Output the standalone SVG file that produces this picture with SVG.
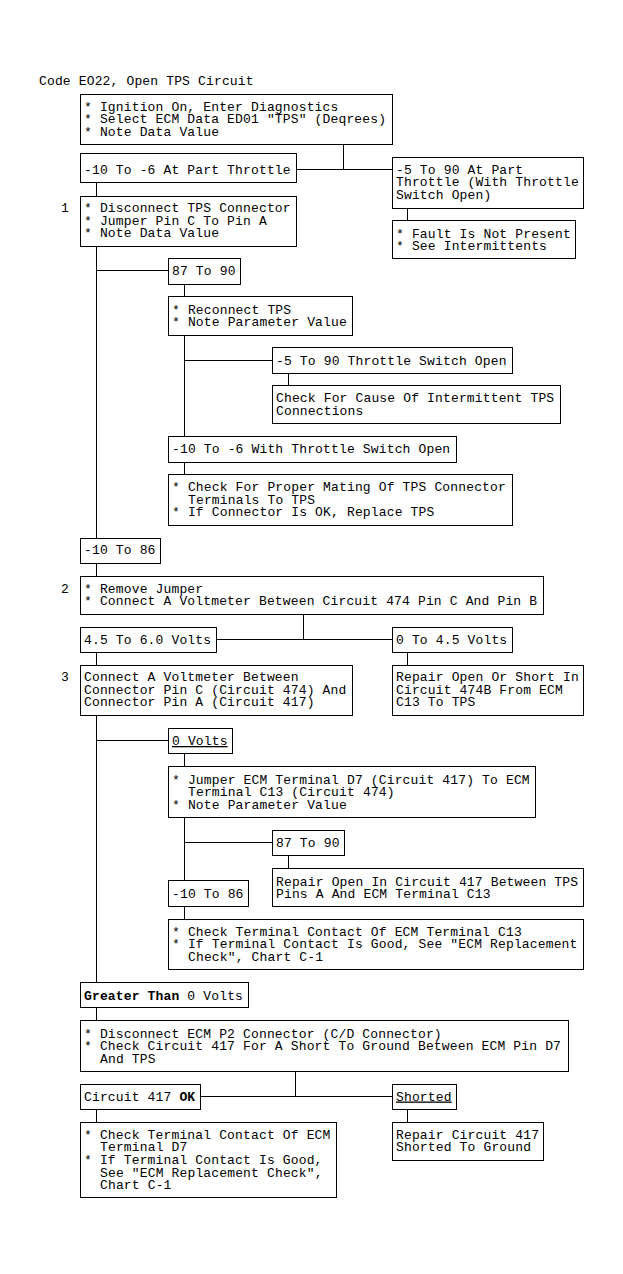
<svg xmlns="http://www.w3.org/2000/svg" width="623" height="1274" viewBox="0 0 623 1274">
<style>
rect.b{fill:#fff;stroke:#000;stroke-width:1}
text{font-family:"Liberation Mono","DejaVu Sans Mono",monospace;font-size:13px;letter-spacing:0.15px;fill:#000}
.u{text-decoration:underline}
.bd{font-weight:bold}
#connectors line{stroke:#000;stroke-width:1}
</style>
<rect x="0" y="0" width="623" height="1274" fill="#fff"/>
<g id="connectors">
<line x1="343.5" y1="144.5" x2="343.5" y2="169.5"/>
<line x1="296.5" y1="169.5" x2="392.5" y2="169.5"/>
<line x1="96.5" y1="182.5" x2="96.5" y2="196.5"/>
<line x1="407.5" y1="208.5" x2="407.5" y2="220.5"/>
<line x1="96.5" y1="246.5" x2="96.5" y2="538.5"/>
<line x1="96.5" y1="270.5" x2="168.5" y2="270.5"/>
<line x1="184.5" y1="284.5" x2="184.5" y2="296.5"/>
<line x1="184.5" y1="335.5" x2="184.5" y2="436.5"/>
<line x1="184.5" y1="360.5" x2="272.5" y2="360.5"/>
<line x1="288.5" y1="373.5" x2="288.5" y2="385.5"/>
<line x1="184.5" y1="462.5" x2="184.5" y2="474.5"/>
<line x1="96.5" y1="563.5" x2="96.5" y2="576.5"/>
<line x1="303.5" y1="614.5" x2="303.5" y2="639.5"/>
<line x1="216.5" y1="639.5" x2="392.5" y2="639.5"/>
<line x1="96.5" y1="652.5" x2="96.5" y2="665.5"/>
<line x1="407.5" y1="652.5" x2="407.5" y2="665.5"/>
<line x1="96.5" y1="715.5" x2="96.5" y2="982.5"/>
<line x1="96.5" y1="740.5" x2="168.5" y2="740.5"/>
<line x1="184.5" y1="753.5" x2="184.5" y2="766.5"/>
<line x1="184.5" y1="817.5" x2="184.5" y2="880.5"/>
<line x1="184.5" y1="842.5" x2="272.5" y2="842.5"/>
<line x1="288.5" y1="855.5" x2="288.5" y2="868.5"/>
<line x1="184.5" y1="906.5" x2="184.5" y2="919.5"/>
<line x1="96.5" y1="1007.5" x2="96.5" y2="1020.5"/>
<line x1="295.5" y1="1071.5" x2="295.5" y2="1096.5"/>
<line x1="200.5" y1="1096.5" x2="392.5" y2="1096.5"/>
<line x1="96.5" y1="1109.5" x2="96.5" y2="1122.5"/>
<line x1="407.5" y1="1109.5" x2="407.5" y2="1122.5"/>
</g>
<g id="title"><text x="39" y="84.5">Code EO22, Open TPS Circuit</text></g>
<g id="step1"><text x="61" y="212">1</text></g>
<g id="step2"><text x="61" y="592.5">2</text></g>
<g id="step3"><text x="61" y="681">3</text></g>
<g id="nA"><rect class="b" x="80.5" y="94.5" width="312" height="50"/>
<text><tspan x="84" y="110.5">* Ignition On, Enter Diagnostics</tspan><tspan x="84" y="123.2">* Select ECM Data ED01 "TPS" (Deqrees)</tspan><tspan x="84" y="135.9">* Note Data Value</tspan></text></g>
<g id="nB"><rect class="b" x="80.5" y="153.5" width="216" height="29"/>
<text x="84" y="173.5">-10 To -6 At Part Throttle</text></g>
<g id="nC"><rect class="b" x="392.5" y="157.5" width="191" height="51"/>
<text><tspan x="396" y="173.5">-5 To 90 At Part</tspan><tspan x="396" y="186.2">Throttle (With Throttle</tspan><tspan x="396" y="198.9">Switch Open)</tspan></text></g>
<g id="nD"><rect class="b" x="392.5" y="220.5" width="183" height="38"/>
<text><tspan x="396" y="237.5">* Fault Is Not Present</tspan><tspan x="396" y="250.2">* See Intermittents</tspan></text></g>
<g id="nE"><rect class="b" x="80.5" y="196.5" width="216" height="50"/>
<text><tspan x="84" y="212">* Disconnect TPS Connector</tspan><tspan x="84" y="224.7">* Jumper Pin C To Pin A</tspan><tspan x="84" y="237.4">* Note Data Value</tspan></text></g>
<g id="nF"><rect class="b" x="168.5" y="258.5" width="72" height="26"/>
<text x="172" y="275">87 To 90</text></g>
<g id="nG"><rect class="b" x="168.5" y="296.5" width="184" height="39"/>
<text><tspan x="172" y="313.5">* Reconnect TPS</tspan><tspan x="172" y="326.2">* Note Parameter Value</tspan></text></g>
<g id="nH"><rect class="b" x="272.5" y="347.5" width="240" height="26"/>
<text x="276" y="364.5">-5 To 90 Throttle Switch Open</text></g>
<g id="nI"><rect class="b" x="272.5" y="385.5" width="288" height="38"/>
<text><tspan x="276" y="402">Check For Cause Of Intermittent TPS</tspan><tspan x="276" y="414.7">Connections</tspan></text></g>
<g id="nJ"><rect class="b" x="168.5" y="436.5" width="288" height="26"/>
<text x="172" y="453">-10 To -6 With Throttle Switch Open</text></g>
<g id="nK"><rect class="b" x="168.5" y="474.5" width="344" height="51"/>
<text><tspan x="172" y="491">* Check For Proper Mating Of TPS Connector</tspan><tspan x="188" y="503.7">Terminals To TPS</tspan><tspan x="172" y="516.4">* If Connector Is OK, Replace TPS</tspan></text></g>
<g id="nL"><rect class="b" x="80.5" y="538.5" width="80" height="25"/>
<text x="84" y="554">-10 To 86</text></g>
<g id="nM"><rect class="b" x="80.5" y="576.5" width="463" height="38"/>
<text><tspan x="84" y="592.5">* Remove Jumper</tspan><tspan x="84" y="605.2">* Connect A Voltmeter Between Circuit 474 Pin C And Pin B</tspan></text></g>
<g id="nN"><rect class="b" x="80.5" y="627.5" width="136" height="25"/>
<text x="84" y="643.5">4.5 To 6.0 Volts</text></g>
<g id="nO"><rect class="b" x="392.5" y="627.5" width="120" height="25"/>
<text x="396" y="643.5">0 To 4.5 Volts</text></g>
<g id="nP"><rect class="b" x="80.5" y="665.5" width="272" height="50"/>
<text><tspan x="84" y="681">Connect A Voltmeter Between</tspan><tspan x="84" y="693.7">Connector Pin C (Circuit 474) And</tspan><tspan x="84" y="706.4">Connector Pin A (Circuit 417)</tspan></text></g>
<g id="nQ"><rect class="b" x="392.5" y="665.5" width="191" height="50"/>
<text><tspan x="396" y="681">Repair Open Or Short In</tspan><tspan x="396" y="693.7">Circuit 474B From ECM</tspan><tspan x="396" y="706.4">C13 To TPS</tspan></text></g>
<g id="nR"><rect class="b" x="168.5" y="728.5" width="64" height="25"/>
<text class="u" x="172" y="745">0 Volts</text></g>
<g id="nS"><rect class="b" x="168.5" y="766.5" width="367" height="51"/>
<text><tspan x="172" y="783.5">* Jumper ECM Terminal D7 (Circuit 417) To ECM</tspan><tspan x="188" y="796.2">Terminal C13 (Circuit 474)</tspan><tspan x="172" y="808.9">* Note Parameter Value</tspan></text></g>
<g id="nT"><rect class="b" x="272.5" y="830.5" width="72" height="25"/>
<text x="276" y="846.5">87 To 90</text></g>
<g id="nU"><rect class="b" x="272.5" y="868.5" width="311" height="38"/>
<text><tspan x="276" y="885.5">Repair Open In Circuit 417 Between TPS</tspan><tspan x="276" y="898.2">Pins A And ECM Terminal C13</tspan></text></g>
<g id="nV"><rect class="b" x="168.5" y="880.5" width="80" height="26"/>
<text x="172" y="898">-10 To 86</text></g>
<g id="nW"><rect class="b" x="168.5" y="919.5" width="415" height="50"/>
<text><tspan x="172" y="935.5">* Check Terminal Contact Of ECM Terminal C13</tspan><tspan x="172" y="948.2">* If Terminal Contact Is Good, See "ECM Replacement</tspan><tspan x="188" y="960.9">Check", Chart C-1</tspan></text></g>
<g id="nX"><rect class="b" x="80.5" y="982.5" width="168" height="25"/>
<text x="84" y="999.5"><tspan class="bd">Greater Than</tspan> 0 Volts</text></g>
<g id="nY"><rect class="b" x="80.5" y="1020.5" width="488" height="51"/>
<text><tspan x="84" y="1037.5">* Disconnect ECM P2 Connector (C/D Connector)</tspan><tspan x="84" y="1050.2">* Check Circuit 417 For A Short To Ground Between ECM Pin D7</tspan><tspan x="100" y="1062.9">And TPS</tspan></text></g>
<g id="nZ"><rect class="b" x="80.5" y="1084.5" width="120" height="25"/>
<text x="84" y="1100.5">Circuit 417 <tspan class="bd">OK</tspan></text></g>
<g id="nAA"><rect class="b" x="392.5" y="1084.5" width="64" height="25"/>
<text class="u" x="396" y="1100.5">Shorted</text></g>
<g id="nAB"><rect class="b" x="80.5" y="1122.5" width="256" height="75"/>
<text><tspan x="84" y="1138.5">* Check Terminal Contact Of ECM</tspan><tspan x="100" y="1151.2">Terminal D7</tspan><tspan x="84" y="1163.9">* If Terminal Contact Is Good,</tspan><tspan x="100" y="1176.6">See "ECM Replacement Check",</tspan><tspan x="100" y="1189.3">Chart C-1</tspan></text></g>
<g id="nAC"><rect class="b" x="392.5" y="1122.5" width="151" height="38"/>
<text><tspan x="396" y="1138.5">Repair Circuit 417</tspan><tspan x="396" y="1151.2">Shorted To Ground</tspan></text></g>
</svg>
